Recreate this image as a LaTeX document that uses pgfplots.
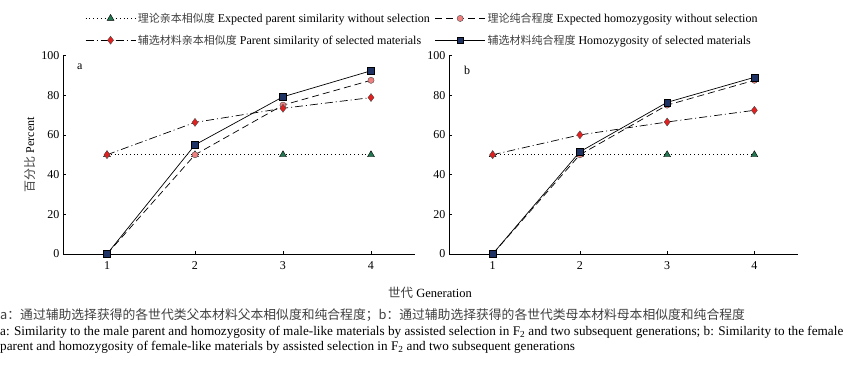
\documentclass[border=0pt]{standalone}
\usepackage{fontspec}
\setmainfont{Liberation Serif}
\newfontfamily\cjk{Noto Sans CJK SC}
\usepackage{pgfplots}
\pgfplotsset{compat=1.18}

\definecolor{tri}{RGB}{34,120,80}
\definecolor{circ}{RGB}{240,128,128}
\definecolor{dia}{RGB}{230,30,30}
\definecolor{sq}{RGB}{30,50,100}
\newcommand{\zh}[1]{{\cjk\color{black!75}#1}}
\newcommand{\zhs}[1]{{\cjk\fontsize{11}{13}\selectfont\color{black!75}#1}}

\pgfplotsset{
  base/.style={scale only axis, height=198.5pt, xmin=0.5, xmax=4.5, ymin=0, ymax=100,
    axis lines=left, axis line style={-, line width=0.7pt}, tick align=inside,
    major tick length=3pt, xtick={1,2,3,4}, ytick={0,20,...,100},
    tick style={black, line width=0.7pt},
    /pgf/number format/assume math mode=true,
    tick label style={font=\fontsize{12}{14}\selectfont},
    xticklabel style={yshift=-4pt},
    clip=false},
  s1/.style={black, line width=0.7pt, dash pattern=on 0.8pt off 3pt, mark=triangle*, mark size=4pt,
    mark options={solid, fill=tri, draw=black, line width=0.4pt}},
  s2/.style={black, line width=0.7pt, dash pattern=on 7pt off 4pt, mark=*, mark size=3.1pt,
    mark options={solid, fill=circ, draw=black!70, line width=0.4pt}},
  s3/.style={black, line width=0.7pt, dash pattern=on 8pt off 3pt on 1pt off 3pt, mark=diamond*, mark size=4pt,
    mark options={solid, fill=dia, draw=black!70, line width=0.4pt}},
  s4/.style={black, line width=0.7pt, mark=square*, mark size=3.4pt,
    mark options={solid, fill=sq, draw=black, line width=0.4pt}},
}

\begin{document}
\begin{tikzpicture}
\begin{axis}[base, width=352pt, at={(63pt,113pt)}, anchor=south west,
  ylabel={\zh{百分比} Percent},
  ylabel style={at={(axis description cs:-0.095,0.5)}, anchor=center, font=\fontsize{12}{14}\selectfont},
  legend columns=2, legend cell align=left,
  legend image code/.code={\draw[mark repeat=2, mark phase=2, #1] plot coordinates {(0pt,0pt) (25pt,0pt) (50pt,0pt)};},
  legend style={at={(axis description cs:0.054,1.235)}, anchor=north west, draw=none, fill=none,
    font=\fontsize{12}{14}\selectfont, row sep=7pt,
    /tikz/every even column/.append style={column sep=3pt}},
]
\addplot[s1] coordinates {(1,50) (2,50) (3,50) (4,50)};
\addlegendentry{\zhs{理论亲本相似度} Expected parent similarity without selection}
\addplot[s2] coordinates {(1,0) (2,50) (3,75) (4,87.5)};
\addlegendentry{\zhs{理论纯合程度} Expected homozygosity without selection}
\addplot[s3] coordinates {(1,50) (2,66.3) (3,73.4) (4,78.8)};
\addlegendentry{\zhs{辅选材料亲本相似度} Parent similarity of selected materials}
\addplot[s4] coordinates {(1,0) (2,55) (3,79.2) (4,92.3)};
\addlegendentry{\zhs{辅选材料纯合程度} Homozygosity of selected materials}
\node[anchor=center, font=\fontsize{12}{14}\selectfont] at (rel axis cs:0.048,0.942) {a};
\end{axis}
\begin{axis}[base, width=349pt, at={(449pt,113pt)}, anchor=south west]
\addplot[s1] coordinates {(1,50) (2,50) (3,50) (4,50)};
\addplot[s2] coordinates {(1,0) (2,50) (3,75) (4,87.5)};
\addplot[s3] coordinates {(1,50) (2,60) (3,66.5) (4,72.4)};
\addplot[s4] coordinates {(1,0) (2,51.5) (3,76.4) (4,89)};
\node[anchor=center, font=\fontsize{12}{14}\selectfont] at (rel axis cs:0.052,0.927) {b};
\end{axis}
\node[font=\fontsize{12.5}{14}\selectfont] at (430pt,74pt) {\zh{世代} Generation};
\node[anchor=north west, inner sep=0pt, align=left, font=\fontsize{13.2}{15}\selectfont] at (0pt,59pt)
 {\zh{\fontsize{12.8}{15}\selectfont a：通过辅助选择获得的各世代类父本材料父本相似度和纯合程度；b：通过辅助选择获得的各世代类母本材料母本相似度和纯合程度}\\[1pt]
  a: Similarity to the male parent and homozygosity of male-like materials by assisted selection in F\textsubscript{2} and two subsequent generations; b: Similarity to the female\\
  parent and homozygosity of female-like materials by assisted selection in F\textsubscript{2} and two subsequent generations};
\pgfresetboundingbox
\path[use as bounding box] (0pt,0pt) rectangle (860pt,367pt);
\end{tikzpicture}
\end{document}
